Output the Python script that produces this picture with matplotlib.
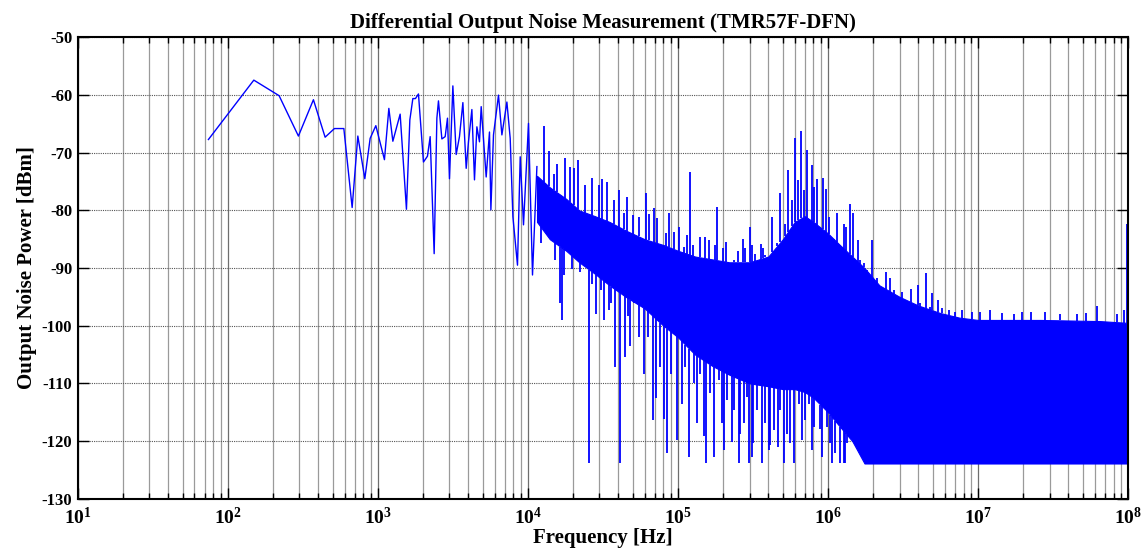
import numpy as np
import matplotlib
matplotlib.use("Agg")
import matplotlib.pyplot as plt
from matplotlib.ticker import FixedLocator, LogLocator, NullFormatter, FuncFormatter

plt.rcParams["font.family"] = ["Liberation Serif", "DejaVu Serif"]
plt.rcParams["font.weight"] = "bold"
plt.rcParams["axes.unicode_minus"] = False
plt.rcParams["mathtext.fontset"] = "custom"
plt.rcParams["mathtext.rm"] = "Liberation Serif:bold"
plt.rcParams["mathtext.bf"] = "Liberation Serif:bold"

# low-frequency part of the trace, sparse enough to follow point by point
trace_f = [74.3, 149.1, 219.8, 295.6, 372.1, 445.3, 513.6, 593.5, 674.2, 735.6,
           819.0, 888.6, 969.7, 1106.6, 1184, 1259, 1408, 1551, 1634, 1711,
           1781, 1865, 2014, 2141, 2232, 2373, 2474, 2535, 2671, 2810,
           2911, 3002, 3162, 3327, 3499, 3687, 3879, 4018, 4233, 4406,
           4571, 4757, 4883, 5272, 5546, 5666, 5897, 6368, 6709, 7244,
           7621, 7943, 8524, 8886, 9348, 10093, 10732, 11482]
trace_db = [-67.7, -57.4, -60.1, -67.1, -60.8, -67.3, -65.8, -65.8, -79.5, -67.1,
            -74.5, -67.5, -65.3, -71.2, -62.3, -68.0, -63.3, -79.8, -64.3, -60.6,
            -60.6, -59.8, -71.6, -70.6, -67.2, -87.5, -64.0, -61.0, -67.6, -67.2,
            -64.0, -74.5, -58.4, -70.3, -67.2, -61.3, -72.7, -68.1, -62.5, -74.7,
            -65.5, -68.1, -62.0, -74.2, -66.4, -79.9, -66.9, -60.0, -66.9, -61.2,
            -67.5, -81.1, -89.5, -70.7, -82.5, -64.9, -91.2, -72.4]

# dense noise band above ~10 kHz: top and bottom of the solid core
band_f = [1.15e4, 1.4e4, 1.8e4, 2.2e4, 2.8e4, 3.5e4, 4.5e4, 6e4, 8e4, 1e5,
          1.3e5, 1.7e5, 2.2e5, 3e5, 4e5, 5e5, 6e5, 7e5, 8e5, 1e6,
          1.2e6, 1.45e6, 1.75e6, 2.2e6, 3e6, 4e6, 5.6e6, 7.5e6, 1e7, 2.6e7,
          6.5e7, 9.85e7]
band_top = [-74.0, -76.0, -78.0, -80.0, -81.0, -82.0, -83.5, -85.0, -86.0, -87.0,
            -88.0, -88.5, -89.0, -89.0, -88.0, -85.0, -82.0, -81.0, -82.0, -84.0,
            -86.0, -88.0, -90.0, -93.0, -95.0, -96.5, -97.8, -98.6, -99.0, -99.0,
            -99.2, -99.5]
band_bottom = [-82.0, -85.0, -87.0, -89.0, -91.0, -93.0, -95.0, -97.0, -100.0, -102.0,
               -105.0, -107.0, -108.5, -110.0, -110.5, -111.0, -111.0, -111.5, -112.5, -115.0,
               -117.5, -120.0, -123.9, -123.9, -123.9, -123.9, -123.9, -123.9, -123.9, -123.9,
               -123.9, -123.9]

# isolated peaks sticking out of the band
peak_f = [12790, 13720, 14830, 15600, 17740, 19140, 20150, 21420, 24100, 26710,
          29880, 31140, 33630, 37240, 40620, 43410, 45710, 50100, 54650, 60810,
          63710, 68750, 72440, 83560, 86550, 94500, 100900, 110000, 114800, 120800,
          125000, 140800, 152100, 160000, 177400, 182000, 200000, 208900, 234900, 250000,
          271300, 281000, 303400, 310000, 327600, 357600, 370000, 381900, 423300, 456800,
          480800, 519300, 541100, 575200, 598800, 627800, 660700, 688200, 724400, 782100,
          802100, 844700, 920400, 970000, 1.0097e6, 1.0904e6, 1.148e6, 1.2716e6, 1.324e6, 1.393e6,
          1.468e6, 1.575e6, 1.642e6, 1.727e6, 1.819e6, 1.965e6, 2.12e6, 2.447e6, 2.602e6, 2.739e6,
          3.113e6, 3.576e6, 3.981e6, 4.125e6, 4.522e6, 4.808e6, 4.936e6, 5.411e6, 5.752e6, 6.368e6,
          7.06e6, 7.82e6, 9.12e6, 1.035e7, 1.195e7, 1.445e7, 1.727e7, 1.965e7, 2.256e7, 2.78e7,
          3.499e7, 4.571e7, 5.272e7, 6.214e7, 8.447e7, 9.447e7, 9.847e7]
peak_db = [-65.4, -69.7, -73.6, -71.9, -70.9, -72.4, -72.6, -71.2, -75.6, -74.3,
           -75.6, -74.6, -75.0, -78.2, -76.5, -80.5, -77.6, -80.8, -81.1, -76.9,
           -80.6, -79.6, -81.4, -83.9, -80.4, -83.7, -82.8, -86.3, -84.3, -73.3,
           -86.0, -84.6, -84.6, -85.2, -86.0, -79.4, -86.5, -85.5, -88.6, -87.0,
           -85.0, -86.6, -82.9, -86.0, -87.5, -85.9, -86.5, -87.8, -81.2, -85.7,
           -77.0, -82.3, -73.0, -78.2, -67.5, -74.7, -66.2, -76.5, -69.5, -72.1,
           -75.9, -74.6, -74.4, -76.2, -81.1, -85.1, -80.5, -82.3, -82.9, -78.9,
           -80.5, -85.1, -88.6, -89.2, -90.4, -85.1, -91.8, -90.6, -91.8, -93.8,
           -94.1, -93.7, -92.9, -96.1, -90.8, -96.7, -94.3, -95.5, -97.0, -97.3,
           -97.7, -97.3, -97.7, -97.7, -97.3, -97.8, -97.9, -97.7, -97.6, -97.7,
           -97.9, -97.9, -97.8, -96.6, -98.0, -97.2, -82.4]

# deep dips below the band
dip_f = [12204, 15210, 16420, 16855, 17285, 19640, 22320, 23500, 25630, 26700,
         28530, 30650, 31915, 34480, 35930, 37780, 40810, 44060, 46160, 48080,
         51140, 55210, 58970, 63070, 67710, 71660, 76210, 80170, 84460, 89780,
         93520, 98470, 106300, 111900, 118950, 127100, 133800, 140800, 148200, 154400,
         164200, 172800, 186600, 196400, 201400, 212100, 229100, 234900, 253500, 260200,
         273900, 288300, 295600, 311200, 316200, 336100, 363100, 381900, 402000, 412500,
         434000, 461300, 480800, 511400, 532600, 560600, 589700, 637300, 670300, 706000,
         742800, 782000, 802100, 888600, 911700, 984300, 1.036e6, 1.063e6, 1.1185e6, 1.208e6,
         1.272e6, 1.304e6, 1.338e6]
dip_db = [-85.7, -88.6, -96.1, -99.0, -91.2, -90.1, -90.6, -89.2, -123.9, -92.7,
          -97.9, -93.8, -99.0, -97.3, -96.1, -107.1, -123.9, -105.4, -98.4, -103.6,
          -96.1, -101.9, -108.3, -101.9, -116.4, -112.6, -107.1, -116.1, -122.1, -108.3,
          -101.3, -119.8, -113.5, -107.1, -122.7, -110.0, -116.9, -108.3, -119.2, -123.9,
          -111.7, -122.7, -109.4, -116.9, -121.6, -112.9, -120.1, -114.6, -123.9, -118.7,
          -116.9, -112.3, -123.9, -122.7, -120.4, -114.6, -123.9, -116.9, -121.6, -120.7,
          -118.1, -121.0, -114.6, -123.9, -118.7, -120.4, -123.9, -113.5, -119.8, -116.3,
          -113.5, -121.6, -117.5, -118.0, -122.7, -117.5, -120.4, -123.9, -122.1, -123.9,
          -123.9, -123.9, -120.4]

blue = "#0000ff"

fig = plt.figure(figsize=(11.43, 5.51), dpi=100)
ax = fig.add_axes([0.068, 0.095, 0.919, 0.837])
ax.set_xscale("log")

ax.plot(trace_f, trace_db, color=blue, lw=1.0)
ax.fill_between(band_f, band_bottom, band_top, color=blue, lw=0.8, edgecolor=blue)

lf_band = np.log10(band_f)
peak_base = np.interp(np.log10(peak_f), lf_band, band_top)
ax.vlines(peak_f, peak_base, peak_db, color=blue, lw=1.3)
dip_base = np.interp(np.log10(dip_f), lf_band, band_bottom)
ax.vlines(dip_f, dip_db, dip_base, color=blue, lw=1.3)

ax.set_xlim(10, 1e8)
ax.set_ylim(-130, -50)
ax.set_yticks(np.arange(-130, -49, 10))
ax.xaxis.set_major_locator(FixedLocator([10.0 ** k for k in range(1, 9)]))
ax.xaxis.set_major_formatter(FuncFormatter(lambda v, p: r"$\mathbf{10^{%d}}$" % round(np.log10(v))))
ax.xaxis.set_minor_locator(LogLocator(base=10, subs=np.arange(2, 10), numticks=100))
ax.xaxis.set_minor_formatter(NullFormatter())

ax.grid(True, which="major", axis="x", color="#6e6e6e", lw=0.9)
ax.grid(True, which="minor", axis="x", color="#9a9a9a", lw=0.9)
ax.grid(True, which="major", axis="y", color="#555555", lw=0.8, ls=(0, (1, 1)))
ax.set_axisbelow(True)

ax.tick_params(which="both", direction="in", top=True, right=True, width=1.0)
ax.tick_params(which="major", length=8)
ax.tick_params(which="minor", length=4)
ax.tick_params(axis="y", labelsize=12, pad=4)
ax.tick_params(axis="x", labelsize=14, pad=6)
for s in ax.spines.values():
    s.set_linewidth(1.5)

ax.set_title("Differential Output Noise Measurement (TMR57F-DFN)", fontsize=15, fontweight="bold", pad=7)
ax.set_xlabel("Frequency [Hz]", fontsize=15, fontweight="bold", labelpad=0)
ax.set_ylabel("Output Noise Power [dBm]", fontsize=15, fontweight="bold", labelpad=3)

fig.savefig("out.png", dpi=100)
